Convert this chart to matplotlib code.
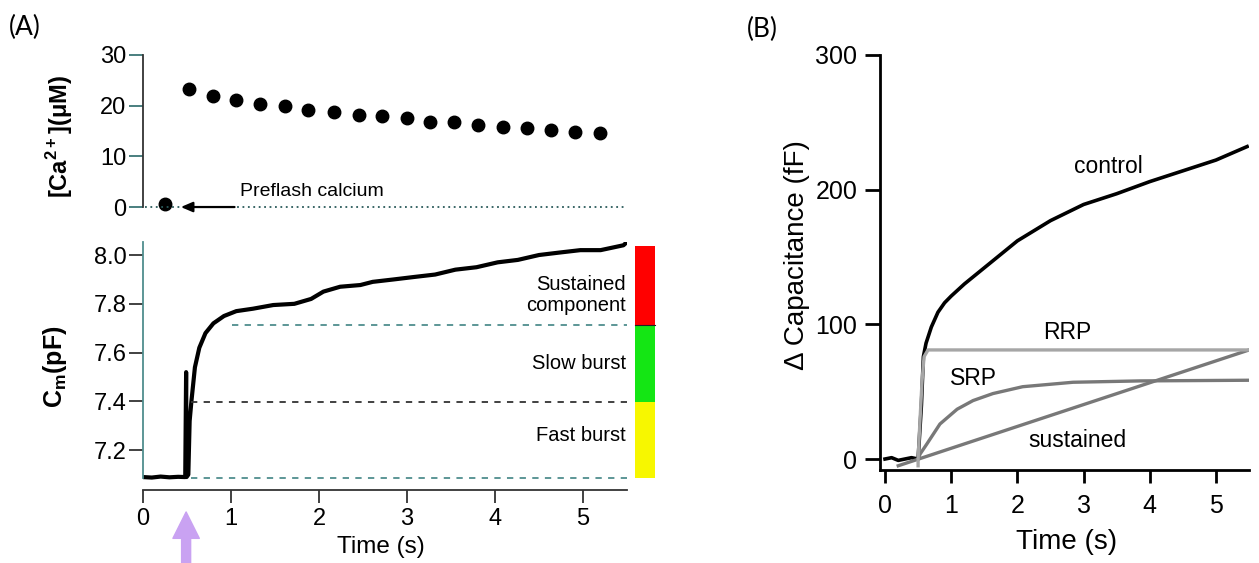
import numpy as np
import matplotlib
matplotlib.use("Agg")
import matplotlib.pyplot as plt
from matplotlib.patches import Rectangle

plt.rcParams['font.family'] = ['Liberation Sans', 'DejaVu Sans']
plt.rcParams['mathtext.fontset'] = 'custom'
plt.rcParams['mathtext.rm'] = 'Liberation Sans'
plt.rcParams['mathtext.bf'] = 'Liberation Sans:bold'

# ---- panel A, top: calcium after the flash
ca_t = [0.52, 0.79, 1.06, 1.33, 1.61, 1.88, 2.17, 2.45, 2.72, 3.00,
        3.26, 3.53, 3.81, 4.09, 4.36, 4.64, 4.91, 5.19]
ca_v = [23.2, 22.0, 21.2, 20.4, 20.0, 19.2, 18.7, 18.1, 17.9, 17.5,
        16.8, 16.8, 16.2, 15.8, 15.6, 15.2, 14.9, 14.7]
preflash_t = [0.25]
preflash_v = [0.5]

# ---- panel A, bottom: membrane capacitance trace
cm_t = [0.0, 0.1, 0.2, 0.3, 0.4, 0.48, 0.49, 0.495, 0.515, 0.53, 0.55, 0.59,
        0.64, 0.71, 0.80, 0.92, 1.06, 1.25, 1.48, 1.72, 1.91, 2.05, 2.24,
        2.47, 2.61, 2.85, 3.08, 3.32, 3.55, 3.79, 4.03, 4.26, 4.50, 4.73,
        4.97, 5.20, 5.46, 5.49]
cm_v = [7.09, 7.088, 7.092, 7.089, 7.091, 7.09, 7.52, 7.09, 7.10, 7.32, 7.40,
        7.54, 7.62, 7.68, 7.72, 7.75, 7.77, 7.78, 7.795, 7.80, 7.82, 7.85,
        7.87, 7.877, 7.89, 7.90, 7.91, 7.92, 7.94, 7.95, 7.97, 7.98, 8.00,
        8.01, 8.02, 8.02, 8.04, 8.05]
level_sustained = 7.714
level_slow = 7.397
level_base = 7.085
bar_top = 8.037
bar_labels = ['Sustained\ncomponent', 'Slow burst', 'Fast burst']
bar_label_y = [7.837, 7.556, 7.262]
bar_colors = ['#ff0000', '#14e614', '#f7f700']

# ---- panel B
ctrl_t = [0.0, 0.1, 0.2, 0.3, 0.4, 0.5, 0.55, 0.58, 0.62, 0.7, 0.8, 0.9,
          1.0, 1.2, 1.4, 1.7, 2.0, 2.5, 3.0, 3.5, 4.0, 4.5, 5.0, 5.47]
ctrl_v = [0, 1, -1, 0, 1, 0, 40, 76, 86, 98, 109, 116, 121, 130, 138, 150,
          162, 177, 189, 197, 206, 214, 222, 232]
rrp_t = [0.5, 0.5, 0.53, 0.56, 0.59, 0.65, 0.8, 5.5]
rrp_v = [-5, 0, 30, 58, 76, 81, 81, 81]
srp_t = [0.5, 0.53, 0.63, 0.83, 1.09, 1.33, 1.63, 2.08, 2.84, 3.85, 5.5]
srp_v = [0, 3.7, 11, 26, 37, 43.4, 48.6, 53.7, 57, 58, 58.5]
sus_t = [0.2, 5.5]
sus_v = [-5, 81]

W, H = 1259, 563
fig = plt.figure(figsize=(12.59, 5.63), dpi=100)


def add_axes_px(left, top, right, bottom):
    return fig.add_axes([left / W, 1 - bottom / H, (right - left) / W, (bottom - top) / H])


teal = '#4f8e8e'
dark = '#333333'

# ---------------- Panel A top
ax1 = add_axes_px(143, 49.9, 627, 212.1)
ax1.set_xlim(0, 5.5)
ax1.set_ylim(-1, 31)
ax1.plot(ca_t, ca_v, 'o', color='black', markersize=9)
ax1.plot(preflash_t, preflash_v, 'o', color='black', markersize=9)
ax1.plot([0.02, 5.5], [0, 0], color='#2a5a5a', lw=1.3, linestyle=(0, (1, 2)))
ax1.annotate('', xy=(0.43, 0), xytext=(1.04, 0),
             arrowprops=dict(arrowstyle='-|>,head_length=0.7,head_width=0.3',
                             color='black', lw=1.6, shrinkA=0, shrinkB=0))
ax1.text(1.10, 3.0, 'Preflash calcium', fontsize=14, va='center', ha='left')
for s in ['top', 'right', 'bottom']:
    ax1.spines[s].set_visible(False)
ax1.spines['left'].set_bounds(0, 30)
ax1.spines['left'].set_color(dark)
ax1.spines['left'].set_linewidth(1.3)
ax1.set_xticks([])
ax1.set_yticks([0, 10, 20, 30])
ax1.tick_params(axis='y', direction='out', length=10, width=1.3, color='#3a7575',
                labelsize=17, pad=2)

# ---------------- Panel A bottom
ax2 = add_axes_px(143, 241.6, 627, 490)
ax2.set_xlim(0, 5.5)
ax2.set_ylim(7.037, 8.055)
ax2.plot(cm_t, cm_v, color='black', lw=3)
ax2.plot([1.01, 5.5], [level_sustained] * 2, color=teal, lw=1.3, linestyle=(0, (3.5, 3.5)))
ax2.plot([0.54, 5.5], [level_slow] * 2, color=dark, lw=1.3, linestyle=(0, (3.5, 3.5)))
ax2.plot([0.55, 5.5], [level_base] * 2, color=teal, lw=1.3, linestyle=(0, (3.5, 3.5)))

bounds = [bar_top, level_sustained, level_slow, level_base]
for i in range(3):
    ax2.add_patch(Rectangle((5.59, bounds[i + 1]), 0.23, bounds[i] - bounds[i + 1],
                            facecolor=bar_colors[i], edgecolor='none', clip_on=False))
    ax2.text(5.49, bar_label_y[i], bar_labels[i], ha='right', va='center',
             fontsize=14.5, linespacing=1.1)
ax2.plot([5.59, 5.82], [level_sustained] * 2, color='#202020', lw=0.8, clip_on=False)

for s in ['top', 'right']:
    ax2.spines[s].set_visible(False)
ax2.spines['left'].set_bounds(level_base, 8.055)
ax2.spines['left'].set_color(teal)
ax2.spines['left'].set_linewidth(1.3)
ax2.spines['bottom'].set_color(dark)
ax2.spines['bottom'].set_linewidth(1.3)
ax2.set_yticks([7.2, 7.4, 7.6, 7.8, 8.0])
ax2.set_yticklabels(['7.2', '7.4', '7.6', '7.8', '8.0'])
ax2.set_xticks([0, 1, 2, 3, 4, 5])
ax2.tick_params(axis='y', direction='out', length=10, width=1.3, color=dark,
                labelsize=17, pad=2)
ax2.tick_params(axis='x', direction='out', length=9, width=1.3, color=dark,
                labelsize=17, pad=4)
# flash arrow
ax2.annotate('', xy=(0.49, 6.947), xytext=(0.49, 6.735), xycoords='data',
             arrowprops=dict(width=6.5, headwidth=19, headlength=19, color='#c9a2f2',
                             shrink=0), annotation_clip=False)

fig.text(60 / W, 1 - 137 / H, r'[Ca$^{\mathbf{2+}}$](μM)', rotation=90, fontsize=17,
         fontweight='bold', ha='center', va='center')
fig.text(55 / W, 1 - 367 / H, r'C$_{\mathbf{m}}$(pF)', rotation=90, fontsize=18,
         fontweight='bold', ha='center', va='center')
fig.text(381 / W, 1 - 547 / H, 'Time (s)', fontsize=17.5, ha='center', va='center')
fig.text(25 / W, 1 - 27 / H, '(A)', fontsize=19, family='Lato', ha='center', va='center')

# ---------------- Panel B
ax3 = add_axes_px(879.7, 55, 1249.1, 469.8)
ax3.set_xlim(-0.08, 5.5)
ax3.set_ylim(-8, 300)
ax3.plot(ctrl_t, ctrl_v, color='black', lw=2.6)
ax3.plot(sus_t, sus_v, color='#787878', lw=2.4)
ax3.plot(srp_t, srp_v, color='#787878', lw=2.4)
ax3.plot(rrp_t, rrp_v, color='#a6a6a6', lw=2.4)
ax3.text(3.37, 217, 'control', fontsize=16.5, ha='center', va='center')
ax3.text(2.76, 94, 'RRP', fontsize=16.5, ha='center', va='center')
ax3.text(1.33, 60, 'SRP', fontsize=16.5, ha='center', va='center')
ax3.text(2.9, 14, 'sustained', fontsize=16.5, ha='center', va='center')
for s in ['top', 'right']:
    ax3.spines[s].set_visible(False)
for s in ['left', 'bottom']:
    ax3.spines[s].set_linewidth(2)
ax3.set_yticks([0, 100, 200, 300])
ax3.set_xticks([0, 1, 2, 3, 4, 5])
ax3.tick_params(axis='y', direction='out', length=11, width=2, labelsize=18, pad=5)
ax3.tick_params(axis='x', direction='out', length=9.5, width=2, labelsize=18, pad=8)

fig.text(797 / W, 1 - 255 / H, 'Δ Capacitance (fF)', rotation=90, fontsize=20,
         ha='center', va='center')
fig.text(1067 / W, 1 - 542 / H, 'Time (s)', fontsize=20, ha='center', va='center')
fig.text(762 / W, 1 - 29 / H, '(B)', fontsize=19, family='Lato', ha='center', va='center')

fig.savefig('out.png', dpi=100)
